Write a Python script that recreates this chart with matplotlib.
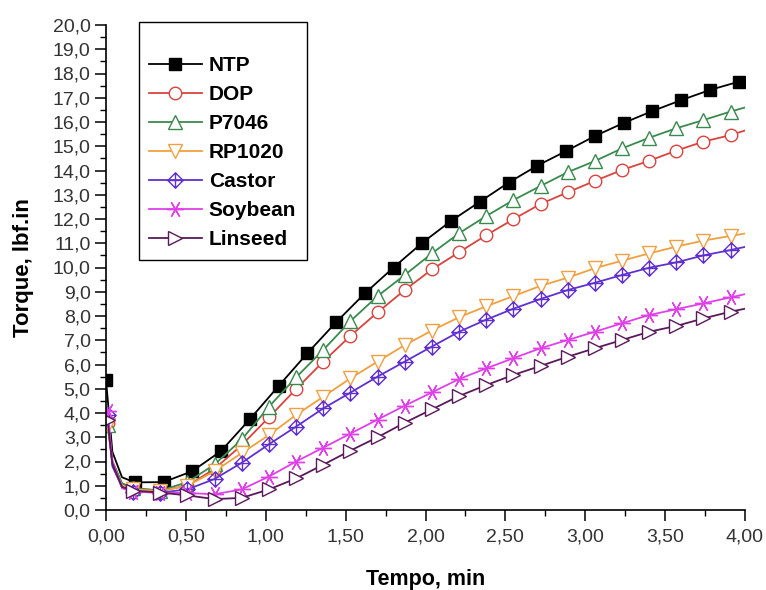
import matplotlib
matplotlib.use("Agg")
import matplotlib.pyplot as plt
from matplotlib.path import Path
from matplotlib.ticker import MultipleLocator, FuncFormatter

plt.rcParams['font.family'] = ['Liberation Sans', 'DejaVu Sans']

# time readings (min); NTP was sampled a bit more coarsely than the others
t_ntp = [0.00, 0.04, 0.10, 0.18, 0.36, 0.54, 0.72, 0.90, 1.08, 1.26, 1.44, 1.62,
         1.80, 1.98, 2.16, 2.34, 2.52, 2.70, 2.88, 3.06, 3.24, 3.42, 3.60, 3.78,
         3.96, 4.00]
t_oth = [0.01, 0.04, 0.10, 0.17, 0.34, 0.51, 0.68, 0.85, 1.02, 1.19, 1.36, 1.53,
         1.70, 1.87, 2.04, 2.21, 2.38, 2.55, 2.72, 2.89, 3.06, 3.23, 3.40, 3.57,
         3.74, 3.91, 4.00]

ntp = [5.35, 2.4, 1.35, 1.14, 1.15, 1.6, 2.43, 3.74, 5.11, 6.46, 7.74, 8.93,
       10.0, 11.02, 11.92, 12.71, 13.5, 14.2, 14.8, 15.42, 15.96, 16.45, 16.9,
       17.32, 17.66, 17.75]
dop = [3.6, 2.0, 1.1, 0.9, 0.8, 1.0, 1.7, 2.68, 3.82, 4.99, 6.12, 7.18, 8.15,
       9.07, 9.92, 10.63, 11.33, 11.99, 12.62, 13.1, 13.57, 14.02, 14.4, 14.82,
       15.19, 15.46, 15.65]
p7046 = [3.5, 2.0, 1.1, 0.9, 0.8, 1.15, 1.88, 2.91, 4.26, 5.47, 6.6, 7.79, 8.82,
         9.69, 10.58, 11.41, 12.12, 12.78, 13.36, 13.93, 14.39, 14.91, 15.35,
         15.74, 16.08, 16.43, 16.6]
rp1020 = [3.5, 1.9, 1.0, 0.85, 0.78, 1.0, 1.6, 2.35, 3.09, 3.92, 4.67, 5.43, 6.12,
          6.8, 7.4, 7.95, 8.4, 8.82, 9.24, 9.58, 9.97, 10.28, 10.58, 10.86, 11.11,
          11.3, 11.4]
castor = [3.9, 1.8, 0.95, 0.75, 0.72, 0.85, 1.28, 1.95, 2.71, 3.44, 4.19, 4.84,
          5.5, 6.12, 6.74, 7.35, 7.85, 8.3, 8.7, 9.07, 9.37, 9.69, 9.99, 10.21,
          10.5, 10.72, 10.85]
soybean = [4.1, 2.0, 0.9, 0.75, 0.72, 0.7, 0.65, 0.85, 1.38, 2.0, 2.57, 3.15,
           3.73, 4.3, 4.85, 5.4, 5.84, 6.26, 6.67, 7.01, 7.35, 7.7, 8.04, 8.28,
           8.52, 8.77, 8.9]
linseed = [3.7, 1.9, 0.95, 0.8, 0.72, 0.6, 0.45, 0.5, 0.85, 1.3, 1.87, 2.45, 3.0,
           3.6, 4.15, 4.7, 5.15, 5.57, 5.94, 6.32, 6.67, 7.01, 7.35, 7.59, 7.9,
           8.18, 8.3]

# diamond with a cross inside (Castor)
cross_diamond = Path(
    [(0, 1), (1, 0), (0, -1), (-1, 0), (0, 1), (0, 1), (0, -1), (-1, 0), (1, 0)],
    [Path.MOVETO, Path.LINETO, Path.LINETO, Path.LINETO, Path.CLOSEPOLY,
     Path.MOVETO, Path.LINETO, Path.MOVETO, Path.LINETO])

series = [
    ('NTP', t_ntp, ntp, 'black', 's', 'black', 8),
    ('DOP', t_oth, dop, '#d9443f', 'o', 'white', 9),
    ('P7046', t_oth, p7046, '#3a8a4e', '^', 'white', 9.5),
    ('RP1020', t_oth, rp1020, '#f0a040', 'v', 'white', 9.5),
    ('Castor', t_oth, castor, '#6030d0', cross_diamond, 'none', 11),
    ('Soybean', t_oth, soybean, '#e040e8', (6, 2, 90), 'none', 12),
    ('Linseed', t_oth, linseed, '#5a1a5a', '>', 'white', 9.5),
]

fig = plt.figure(figsize=(7.66, 5.90), dpi=100)
ax = fig.add_axes([106 / 766, 1 - 510 / 590, 639 / 766, 485 / 590])

for name, t, y, col, mk, face, ms in series:
    n = len(t)
    marks = [0] + list(range(3, n - 1))
    ax.plot(t, y, color=col, lw=1.3, marker=mk, ms=ms, mfc=face, mec=col,
            mew=1.0, markevery=marks, label=name)

ax.set_xlim(0, 4)
ax.set_ylim(0, 20)
ax.spines['top'].set_visible(False)
ax.spines['right'].set_visible(False)
for s in ('left', 'bottom'):
    ax.spines[s].set_linewidth(1.2)

ax.xaxis.set_major_locator(MultipleLocator(0.5))
ax.xaxis.set_minor_locator(MultipleLocator(0.25))
ax.yaxis.set_major_locator(MultipleLocator(1))
ax.yaxis.set_minor_locator(MultipleLocator(0.5))
ax.xaxis.set_major_formatter(FuncFormatter(lambda v, p: f"{v:.2f}".replace('.', ',')))
ax.yaxis.set_major_formatter(FuncFormatter(lambda v, p: f"{v:.1f}".replace('.', ',')))
ax.tick_params(which='major', direction='out', length=8, width=1.1,
               labelsize=14, colors='black', labelcolor='#333333')
ax.tick_params(which='minor', direction='out', length=4.5, width=1.0)
ax.tick_params(axis='x', pad=5)
ax.tick_params(axis='y', pad=3)

ax.set_xlabel('Tempo, min', fontsize=15.5, fontweight='bold')
ax.set_ylabel('Torque, lbf.in', fontsize=16, fontweight='bold')
ax.xaxis.set_label_coords(0.5, -0.122)
ax.yaxis.set_label_coords(-0.112, 0.5)

leg = ax.legend(loc='upper left', bbox_to_anchor=(139 / 766, 1 - 22 / 590),
                bbox_transform=fig.transFigure, borderaxespad=0, fancybox=False,
                edgecolor='black', framealpha=1, handlelength=2.5,
                handletextpad=0.35, labelspacing=0.48, borderpad=0.5,
                prop={'size': 15, 'weight': 'bold'}, title=' ',
                title_fontsize=10)
leg.get_frame().set_linewidth(1.0)

fig.savefig('out.png', dpi=100)
